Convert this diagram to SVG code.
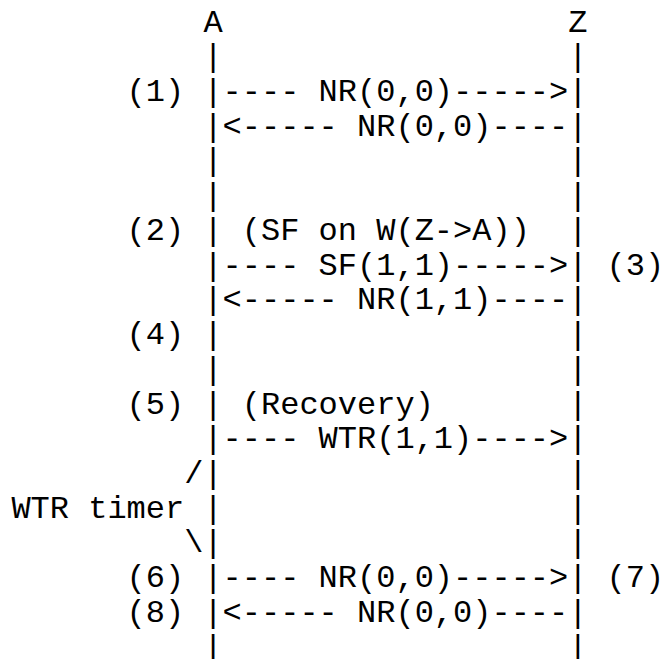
<svg xmlns="http://www.w3.org/2000/svg" width="663" height="659" viewBox="0 0 663 659">
<style>
text{font-family:"Liberation Mono","Courier New",monospace;font-size:32px;fill:#000}
</style>
<rect width="663" height="659" fill="#fff"/>
<g id="node-A">
<text x="203.4" y="31.5">A</text>
<text><tspan x="203.4" y="66.23">|</tspan><tspan x="203.4" y="100.96">|</tspan><tspan x="203.4" y="135.69">|</tspan><tspan x="203.4" y="170.42">|</tspan><tspan x="203.4" y="205.15">|</tspan><tspan x="203.4" y="239.88">|</tspan><tspan x="203.4" y="274.61">|</tspan><tspan x="203.4" y="309.34">|</tspan><tspan x="203.4" y="344.07">|</tspan><tspan x="203.4" y="378.8">|</tspan><tspan x="203.4" y="413.53">|</tspan><tspan x="203.4" y="448.26">|</tspan><tspan x="203.4" y="482.99">|</tspan><tspan x="203.4" y="517.72">|</tspan><tspan x="203.4" y="552.45">|</tspan><tspan x="203.4" y="587.18">|</tspan><tspan x="203.4" y="621.91">|</tspan><tspan x="203.4" y="656.64">|</tspan></text>
</g>
<g id="node-Z">
<text x="568.2" y="31.5">Z</text>
<text><tspan x="568.2" y="66.23">|</tspan><tspan x="568.2" y="100.96">|</tspan><tspan x="568.2" y="135.69">|</tspan><tspan x="568.2" y="170.42">|</tspan><tspan x="568.2" y="205.15">|</tspan><tspan x="568.2" y="239.88">|</tspan><tspan x="568.2" y="274.61">|</tspan><tspan x="568.2" y="309.34">|</tspan><tspan x="568.2" y="344.07">|</tspan><tspan x="568.2" y="378.8">|</tspan><tspan x="568.2" y="413.53">|</tspan><tspan x="568.2" y="448.26">|</tspan><tspan x="568.2" y="482.99">|</tspan><tspan x="568.2" y="517.72">|</tspan><tspan x="568.2" y="552.45">|</tspan><tspan x="568.2" y="587.18">|</tspan><tspan x="568.2" y="621.91">|</tspan><tspan x="568.2" y="656.64">|</tspan></text>
</g>
<g id="connectors">
<text x="222.6" y="100.96">---- NR(0,0)-----&gt;</text>
<text x="222.6" y="135.69">&lt;----- NR(0,0)----</text>
<text x="222.6" y="274.61">---- SF(1,1)-----&gt;</text>
<text x="222.6" y="309.34">&lt;----- NR(1,1)----</text>
<text x="222.6" y="448.26">---- WTR(1,1)----&gt;</text>
<text x="222.6" y="587.18">---- NR(0,0)-----&gt;</text>
<text x="222.6" y="621.91">&lt;----- NR(0,0)----</text>
</g>
<g id="labels">
<text x="126.6" y="100.96">(1)</text>
<text x="126.6" y="239.88">(2)</text>
<text x="241.8" y="239.88">(SF on W(Z-&gt;A))</text>
<text x="606.6" y="274.61">(3)</text>
<text x="126.6" y="344.07">(4)</text>
<text x="126.6" y="413.53">(5)</text>
<text x="241.8" y="413.53">(Recovery)</text>
<text x="184.2" y="482.99">/</text>
<text x="11.4" y="517.72">WTR timer</text>
<text x="184.2" y="552.45">\</text>
<text x="126.6" y="587.18">(6)</text>
<text x="606.6" y="587.18">(7)</text>
<text x="126.6" y="621.91">(8)</text>
</g>
</svg>
